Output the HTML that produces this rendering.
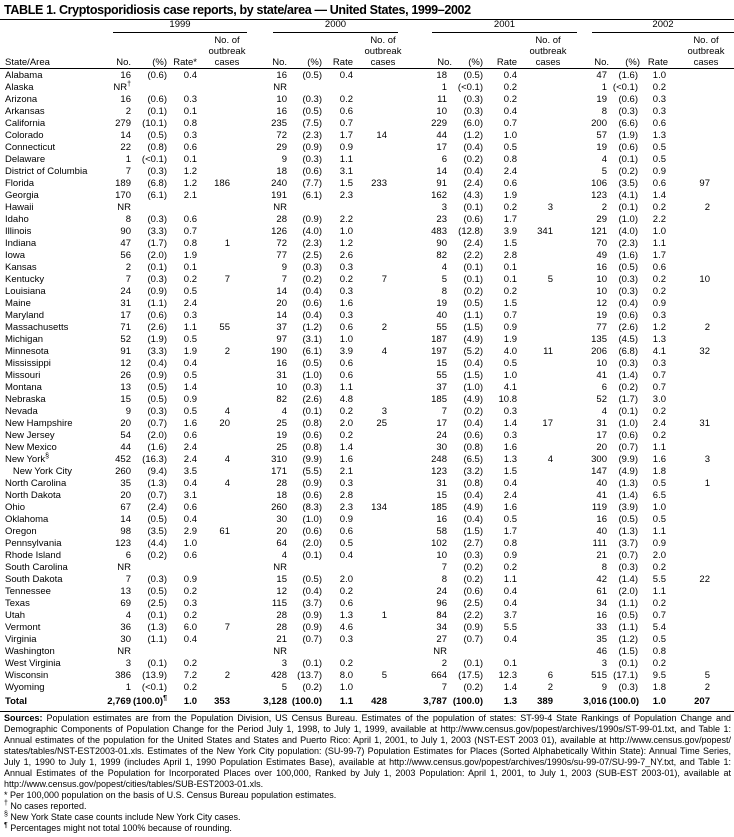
<!DOCTYPE html>
<html><head><meta charset="utf-8">
<style>
body{margin:0;width:734px;height:837px;background:#fff;font-family:"Liberation Sans",Arial,sans-serif;color:#000;position:relative;overflow:hidden}
.a{position:absolute;white-space:nowrap}
.t{left:4px;top:3px;font-weight:bold;font-size:12.5px;letter-spacing:-0.35px}
.hl{position:absolute;height:1px;background:#000}
.h{font-size:9.5px;line-height:11px}
.c{text-align:center}
table{position:absolute;left:0;top:70px;border-collapse:collapse;table-layout:fixed;width:712px;font-size:9.5px}
td{height:12px;padding:0 2px 0 0;line-height:12px;text-align:right;white-space:nowrap;overflow:visible}
td:first-child{text-align:left;padding-left:5px}
sup{font-size:7px;line-height:0;vertical-align:4px}
tr.tot td{font-weight:bold;padding-top:2px}
.f{position:absolute;left:4px;width:727px;font-size:9px;line-height:11px;text-align:justify;text-align-last:justify;white-space:nowrap}
.g{position:absolute;left:4px;font-size:9px;line-height:11px;white-space:nowrap}
</style></head><body>
<div class="a t">TABLE 1. Cryptosporidiosis case reports, by state/area — United States, 1999–2002</div>
<div class="hl" style="left:0;top:19px;width:734px"></div>

<div class="a h c" style="left:113px;width:134px;top:19px">1999</div>
<div class="a h c" style="left:273px;width:125px;top:19px">2000</div>
<div class="a h c" style="left:432px;width:145px;top:19px">2001</div>
<div class="a h c" style="left:592px;width:142px;top:19px">2002</div>
<div class="hl" style="left:113px;top:32px;width:134px"></div>
<div class="hl" style="left:273px;top:32px;width:125px"></div>
<div class="hl" style="left:432px;top:32px;width:145px"></div>
<div class="hl" style="left:592px;top:32px;width:142px"></div>

<div class="a h" style="left:5px;top:57px">State/Area</div>

<div class="a h" style="right:603px;top:57px">No.</div>
<div class="a h" style="right:567px;top:57px">(%)</div>
<div class="a h" style="right:537px;top:57px">Rate*</div>
<div class="a h c" style="left:206px;width:42px;top:35px">No. of<br>outbreak<br>cases</div>

<div class="a h" style="right:447px;top:57px">No.</div>
<div class="a h" style="right:412px;top:57px">(%)</div>
<div class="a h" style="right:381px;top:57px">Rate</div>
<div class="a h c" style="left:362px;width:42px;top:35px">No. of<br>outbreak<br>cases</div>

<div class="a h" style="right:282px;top:57px">No.</div>
<div class="a h" style="right:251px;top:57px">(%)</div>
<div class="a h" style="right:217px;top:57px">Rate</div>
<div class="a h c" style="left:527px;width:42px;top:35px">No. of<br>outbreak<br>cases</div>

<div class="a h" style="right:125px;top:57px">No.</div>
<div class="a h" style="right:94px;top:57px">(%)</div>
<div class="a h" style="right:66px;top:57px">Rate</div>
<div class="a h c" style="left:685px;width:42px;top:35px">No. of<br>outbreak<br>cases</div>

<div class="hl" style="left:0;top:68px;width:734px"></div>

<table>
<colgroup><col style="width:100px"><col style="width:33px"><col style="width:36px"><col style="width:30px"><col style="width:33px"><col style="width:57px"><col style="width:35px"><col style="width:31px"><col style="width:34px"><col style="width:60px"><col style="width:36px"><col style="width:34px"><col style="width:36px"><col style="width:54px"><col style="width:31px"><col style="width:28px"><col style="width:44px"></colgroup>
<tr><td>Alabama<td>16<td>(0.6)<td>0.4<td><td>16<td>(0.5)<td>0.4<td><td>18<td>(0.5)<td>0.4<td><td>47<td>(1.6)<td>1.0<td></tr>
<tr><td>Alaska<td>NR<sup>†</sup><td><td><td><td>NR<td><td><td><td>1<td>(&lt;0.1)<td>0.2<td><td>1<td>(&lt;0.1)<td>0.2<td></tr>
<tr><td>Arizona<td>16<td>(0.6)<td>0.3<td><td>10<td>(0.3)<td>0.2<td><td>11<td>(0.3)<td>0.2<td><td>19<td>(0.6)<td>0.3<td></tr>
<tr><td>Arkansas<td>2<td>(0.1)<td>0.1<td><td>16<td>(0.5)<td>0.6<td><td>10<td>(0.3)<td>0.4<td><td>8<td>(0.3)<td>0.3<td></tr>
<tr><td>California<td>279<td>(10.1)<td>0.8<td><td>235<td>(7.5)<td>0.7<td><td>229<td>(6.0)<td>0.7<td><td>200<td>(6.6)<td>0.6<td></tr>
<tr><td>Colorado<td>14<td>(0.5)<td>0.3<td><td>72<td>(2.3)<td>1.7<td>14<td>44<td>(1.2)<td>1.0<td><td>57<td>(1.9)<td>1.3<td></tr>
<tr><td>Connecticut<td>22<td>(0.8)<td>0.6<td><td>29<td>(0.9)<td>0.9<td><td>17<td>(0.4)<td>0.5<td><td>19<td>(0.6)<td>0.5<td></tr>
<tr><td>Delaware<td>1<td>(&lt;0.1)<td>0.1<td><td>9<td>(0.3)<td>1.1<td><td>6<td>(0.2)<td>0.8<td><td>4<td>(0.1)<td>0.5<td></tr>
<tr><td>District of Columbia<td>7<td>(0.3)<td>1.2<td><td>18<td>(0.6)<td>3.1<td><td>14<td>(0.4)<td>2.4<td><td>5<td>(0.2)<td>0.9<td></tr>
<tr><td>Florida<td>189<td>(6.8)<td>1.2<td>186<td>240<td>(7.7)<td>1.5<td>233<td>91<td>(2.4)<td>0.6<td><td>106<td>(3.5)<td>0.6<td>97</tr>
<tr><td>Georgia<td>170<td>(6.1)<td>2.1<td><td>191<td>(6.1)<td>2.3<td><td>162<td>(4.3)<td>1.9<td><td>123<td>(4.1)<td>1.4<td></tr>
<tr><td>Hawaii<td>NR<td><td><td><td>NR<td><td><td><td>3<td>(0.1)<td>0.2<td>3<td>2<td>(0.1)<td>0.2<td>2</tr>
<tr><td>Idaho<td>8<td>(0.3)<td>0.6<td><td>28<td>(0.9)<td>2.2<td><td>23<td>(0.6)<td>1.7<td><td>29<td>(1.0)<td>2.2<td></tr>
<tr><td>Illinois<td>90<td>(3.3)<td>0.7<td><td>126<td>(4.0)<td>1.0<td><td>483<td>(12.8)<td>3.9<td>341<td>121<td>(4.0)<td>1.0<td></tr>
<tr><td>Indiana<td>47<td>(1.7)<td>0.8<td>1<td>72<td>(2.3)<td>1.2<td><td>90<td>(2.4)<td>1.5<td><td>70<td>(2.3)<td>1.1<td></tr>
<tr><td>Iowa<td>56<td>(2.0)<td>1.9<td><td>77<td>(2.5)<td>2.6<td><td>82<td>(2.2)<td>2.8<td><td>49<td>(1.6)<td>1.7<td></tr>
<tr><td>Kansas<td>2<td>(0.1)<td>0.1<td><td>9<td>(0.3)<td>0.3<td><td>4<td>(0.1)<td>0.1<td><td>16<td>(0.5)<td>0.6<td></tr>
<tr><td>Kentucky<td>7<td>(0.3)<td>0.2<td>7<td>7<td>(0.2)<td>0.2<td>7<td>5<td>(0.1)<td>0.1<td>5<td>10<td>(0.3)<td>0.2<td>10</tr>
<tr><td>Louisiana<td>24<td>(0.9)<td>0.5<td><td>14<td>(0.4)<td>0.3<td><td>8<td>(0.2)<td>0.2<td><td>10<td>(0.3)<td>0.2<td></tr>
<tr><td>Maine<td>31<td>(1.1)<td>2.4<td><td>20<td>(0.6)<td>1.6<td><td>19<td>(0.5)<td>1.5<td><td>12<td>(0.4)<td>0.9<td></tr>
<tr><td>Maryland<td>17<td>(0.6)<td>0.3<td><td>14<td>(0.4)<td>0.3<td><td>40<td>(1.1)<td>0.7<td><td>19<td>(0.6)<td>0.3<td></tr>
<tr><td>Massachusetts<td>71<td>(2.6)<td>1.1<td>55<td>37<td>(1.2)<td>0.6<td>2<td>55<td>(1.5)<td>0.9<td><td>77<td>(2.6)<td>1.2<td>2</tr>
<tr><td>Michigan<td>52<td>(1.9)<td>0.5<td><td>97<td>(3.1)<td>1.0<td><td>187<td>(4.9)<td>1.9<td><td>135<td>(4.5)<td>1.3<td></tr>
<tr><td>Minnesota<td>91<td>(3.3)<td>1.9<td>2<td>190<td>(6.1)<td>3.9<td>4<td>197<td>(5.2)<td>4.0<td>11<td>206<td>(6.8)<td>4.1<td>32</tr>
<tr><td>Mississippi<td>12<td>(0.4)<td>0.4<td><td>16<td>(0.5)<td>0.6<td><td>15<td>(0.4)<td>0.5<td><td>10<td>(0.3)<td>0.3<td></tr>
<tr><td>Missouri<td>26<td>(0.9)<td>0.5<td><td>31<td>(1.0)<td>0.6<td><td>55<td>(1.5)<td>1.0<td><td>41<td>(1.4)<td>0.7<td></tr>
<tr><td>Montana<td>13<td>(0.5)<td>1.4<td><td>10<td>(0.3)<td>1.1<td><td>37<td>(1.0)<td>4.1<td><td>6<td>(0.2)<td>0.7<td></tr>
<tr><td>Nebraska<td>15<td>(0.5)<td>0.9<td><td>82<td>(2.6)<td>4.8<td><td>185<td>(4.9)<td>10.8<td><td>52<td>(1.7)<td>3.0<td></tr>
<tr><td>Nevada<td>9<td>(0.3)<td>0.5<td>4<td>4<td>(0.1)<td>0.2<td>3<td>7<td>(0.2)<td>0.3<td><td>4<td>(0.1)<td>0.2<td></tr>
<tr><td>New Hampshire<td>20<td>(0.7)<td>1.6<td>20<td>25<td>(0.8)<td>2.0<td>25<td>17<td>(0.4)<td>1.4<td>17<td>31<td>(1.0)<td>2.4<td>31</tr>
<tr><td>New Jersey<td>54<td>(2.0)<td>0.6<td><td>19<td>(0.6)<td>0.2<td><td>24<td>(0.6)<td>0.3<td><td>17<td>(0.6)<td>0.2<td></tr>
<tr><td>New Mexico<td>44<td>(1.6)<td>2.4<td><td>25<td>(0.8)<td>1.4<td><td>30<td>(0.8)<td>1.6<td><td>20<td>(0.7)<td>1.1<td></tr>
<tr><td>New York<sup>§</sup><td>452<td>(16.3)<td>2.4<td>4<td>310<td>(9.9)<td>1.6<td><td>248<td>(6.5)<td>1.3<td>4<td>300<td>(9.9)<td>1.6<td>3</tr>
<tr><td>&nbsp;&nbsp;&nbsp;New York City<td>260<td>(9.4)<td>3.5<td><td>171<td>(5.5)<td>2.1<td><td>123<td>(3.2)<td>1.5<td><td>147<td>(4.9)<td>1.8<td></tr>
<tr><td>North Carolina<td>35<td>(1.3)<td>0.4<td>4<td>28<td>(0.9)<td>0.3<td><td>31<td>(0.8)<td>0.4<td><td>40<td>(1.3)<td>0.5<td>1</tr>
<tr><td>North Dakota<td>20<td>(0.7)<td>3.1<td><td>18<td>(0.6)<td>2.8<td><td>15<td>(0.4)<td>2.4<td><td>41<td>(1.4)<td>6.5<td></tr>
<tr><td>Ohio<td>67<td>(2.4)<td>0.6<td><td>260<td>(8.3)<td>2.3<td>134<td>185<td>(4.9)<td>1.6<td><td>119<td>(3.9)<td>1.0<td></tr>
<tr><td>Oklahoma<td>14<td>(0.5)<td>0.4<td><td>30<td>(1.0)<td>0.9<td><td>16<td>(0.4)<td>0.5<td><td>16<td>(0.5)<td>0.5<td></tr>
<tr><td>Oregon<td>98<td>(3.5)<td>2.9<td>61<td>20<td>(0.6)<td>0.6<td><td>58<td>(1.5)<td>1.7<td><td>40<td>(1.3)<td>1.1<td></tr>
<tr><td>Pennsylvania<td>123<td>(4.4)<td>1.0<td><td>64<td>(2.0)<td>0.5<td><td>102<td>(2.7)<td>0.8<td><td>111<td>(3.7)<td>0.9<td></tr>
<tr><td>Rhode Island<td>6<td>(0.2)<td>0.6<td><td>4<td>(0.1)<td>0.4<td><td>10<td>(0.3)<td>0.9<td><td>21<td>(0.7)<td>2.0<td></tr>
<tr><td>South Carolina<td>NR<td><td><td><td>NR<td><td><td><td>7<td>(0.2)<td>0.2<td><td>8<td>(0.3)<td>0.2<td></tr>
<tr><td>South Dakota<td>7<td>(0.3)<td>0.9<td><td>15<td>(0.5)<td>2.0<td><td>8<td>(0.2)<td>1.1<td><td>42<td>(1.4)<td>5.5<td>22</tr>
<tr><td>Tennessee<td>13<td>(0.5)<td>0.2<td><td>12<td>(0.4)<td>0.2<td><td>24<td>(0.6)<td>0.4<td><td>61<td>(2.0)<td>1.1<td></tr>
<tr><td>Texas<td>69<td>(2.5)<td>0.3<td><td>115<td>(3.7)<td>0.6<td><td>96<td>(2.5)<td>0.4<td><td>34<td>(1.1)<td>0.2<td></tr>
<tr><td>Utah<td>4<td>(0.1)<td>0.2<td><td>28<td>(0.9)<td>1.3<td>1<td>84<td>(2.2)<td>3.7<td><td>16<td>(0.5)<td>0.7<td></tr>
<tr><td>Vermont<td>36<td>(1.3)<td>6.0<td>7<td>28<td>(0.9)<td>4.6<td><td>34<td>(0.9)<td>5.5<td><td>33<td>(1.1)<td>5.4<td></tr>
<tr><td>Virginia<td>30<td>(1.1)<td>0.4<td><td>21<td>(0.7)<td>0.3<td><td>27<td>(0.7)<td>0.4<td><td>35<td>(1.2)<td>0.5<td></tr>
<tr><td>Washington<td>NR<td><td><td><td>NR<td><td><td><td>NR<td><td><td><td>46<td>(1.5)<td>0.8<td></tr>
<tr><td>West Virginia<td>3<td>(0.1)<td>0.2<td><td>3<td>(0.1)<td>0.2<td><td>2<td>(0.1)<td>0.1<td><td>3<td>(0.1)<td>0.2<td></tr>
<tr><td>Wisconsin<td>386<td>(13.9)<td>7.2<td>2<td>428<td>(13.7)<td>8.0<td>5<td>664<td>(17.5)<td>12.3<td>6<td>515<td>(17.1)<td>9.5<td>5</tr>
<tr><td>Wyoming<td>1<td>(&lt;0.1)<td>0.2<td><td>5<td>(0.2)<td>1.0<td><td>7<td>(0.2)<td>1.4<td>2<td>9<td>(0.3)<td>1.8<td>2</tr>
<tr class="tot"><td>Total<td>2,769<td>(100.0)<sup>¶</sup><td>1.0<td>353<td>3,128<td>(100.0)<td>1.1<td>428<td>3,787<td>(100.0)<td>1.3<td>389<td>3,016<td>(100.0)<td>1.0<td>207</tr>
</table>
<div class="hl" style="left:0;top:711px;width:734px"></div>

<div class="f" style="top:713px"><b>Sources:</b> Population estimates are from the Population Division, US Census Bureau. Estimates of the population of states: ST-99-4 State Rankings of Population Change and</div>
<div class="f" style="top:724px">Demographic Components of Population Change for the Period July 1, 1998, to July 1, 1999, available at http://www.census.gov/popest/archives/1990s/ST-99-01.txt, and Table 1:</div>
<div class="f" style="top:735px">Annual estimates of the population for the United States and States and Puerto Rico: April 1, 2001, to July 1, 2003 (NST-EST 2003 01), available at http://www.census.gov/popest/</div>
<div class="f" style="top:746px">states/tables/NST-EST2003-01.xls. Estimates of the New York City population: (SU-99-7) Population Estimates for Places (Sorted Alphabetically Within State): Annual Time Series,</div>
<div class="f" style="top:757px">July 1, 1990 to July 1, 1999 (includes April 1, 1990 Population Estimates Base), available at http://www.census.gov/popest/archives/1990s/su-99-07/SU-99-7_NY.txt, and Table 1:</div>
<div class="f" style="top:768px">Annual Estimates of the Population for Incorporated Places over 100,000, Ranked by July 1, 2003 Population: April 1, 2001, to July 1, 2003 (SUB-EST 2003-01), available at</div>
<div class="g" style="top:779px">http://www.census.gov/popest/cities/tables/SUB-EST2003-01.xls.</div>
<div class="g" style="top:790px">* Per 100,000 population on the basis of U.S. Census Bureau population estimates.</div>
<div class="g" style="top:801px"><sup>†</sup> No cases reported.</div>
<div class="g" style="top:812px"><sup>§</sup> New York State case counts include New York City cases.</div>
<div class="g" style="top:823px"><sup>¶</sup> Percentages might not total 100% because of rounding.</div>
</body></html>
